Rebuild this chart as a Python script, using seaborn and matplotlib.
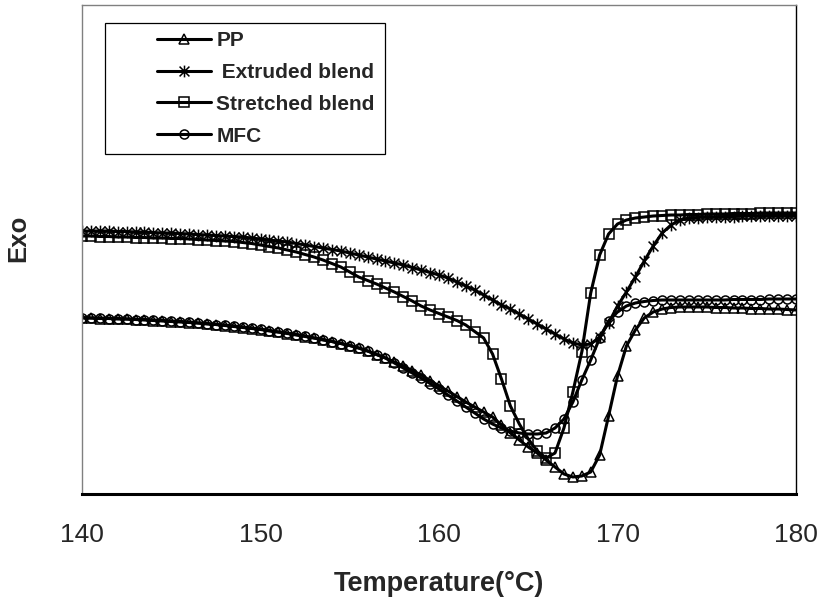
"""
DSC melting curves for PP, the extruded / stretched blends and the MFC,
redrawn in the old Excel look (black lines, hollow markers, boxed legend).
"""

import matplotlib

matplotlib.use("Agg")
import matplotlib.pyplot as plt
import numpy as np
import seaborn as sns
from matplotlib.lines import Line2D
from matplotlib.patches import Rectangle
from matplotlib.path import Path

# --- Data (heat flow in arbitrary units, exo up) ---
temperature = np.linspace(140, 180, 81)  # 0.5 degC sampling

pp = [
    176, 176, 175.5, 175.5, 175, 175, 174.5, 174, 173.5, 173,
    172.5, 172, 171.5, 171, 170, 169.5, 168.5, 167.5, 166.5, 165.5,
    164.5, 163, 162, 160.5, 159, 157.5, 156, 154, 152.5, 150.5,
    148.5, 146, 143, 139.5, 136, 132, 128, 123.5, 119, 113.5,
    108, 103, 97.5, 92, 87, 82, 77, 69, 61, 54,
    47, 41, 34, 27, 20, 17, 18, 22, 39, 78,
    118, 148, 164, 176, 182, 185, 186.5, 187, 187, 187,
    187, 186.5, 186.5, 186, 186, 185.5, 185.5, 185, 185, 184.5, 184,
]

extruded_blend = [
    263, 263, 263, 263, 262.5, 262.5, 262, 262, 261.5, 261,
    261, 260.5, 260, 259.5, 259, 258.5, 258, 257.5, 257, 256,
    255, 254, 253, 252, 250.5, 249, 247.5, 246, 244.5, 243,
    241, 239, 237, 235, 233, 231, 229, 226.5, 224, 221.5,
    219, 216, 212, 208, 204, 199, 194, 189, 185, 180,
    175, 170, 165, 160, 155, 151, 149, 150, 157, 171,
    188, 202, 217, 233, 248, 261, 269, 274, 276, 276.5,
    277, 277, 277.5, 277.5, 278, 278, 278, 278.5, 278.5, 278.5, 278.5,
]

stretched_blend = [
    258, 258, 257.5, 257.5, 257, 257, 256.5, 256.5, 256, 256,
    255.5, 255.5, 255, 254.5, 254, 253.5, 253, 252.5, 251.5, 250.5,
    249, 247.5, 246, 244, 242, 239.5, 237, 234, 230.5, 227,
    222, 217, 213.5, 210, 206, 202, 197.5, 193, 188, 184,
    180.5, 177, 173.5, 169, 162.5, 156, 140, 115, 88, 70,
    55, 43, 36, 41, 66, 102, 142, 201, 239, 260,
    270, 274, 276, 277, 278, 278.5, 279, 279, 279.5, 279.5,
    280, 280, 280, 280.5, 280.5, 280.5, 281, 281, 281, 281, 281,
]

mfc = [
    176.5, 176, 176, 175.5, 175.5, 175, 174.5, 174.5, 174, 173.5,
    173, 172.5, 172, 171, 170.5, 169.5, 169, 168, 167, 166,
    165, 163.5, 162, 161, 159.5, 158, 156, 154.5, 152.5, 150.5,
    148.5, 146, 143, 139.5, 136, 131, 126, 121, 116, 110.5,
    105, 99, 93, 87, 81, 75, 70, 66, 63, 61,
    60, 60, 61, 66, 75, 92, 114, 134, 156, 173,
    182, 188, 191, 192.5, 193.5, 194, 194, 194, 194, 194,
    194, 194, 194, 194.5, 194.5, 194.5, 194.5, 195, 195, 195, 195,
]

labels = ["PP", " Extruded blend", "Stretched blend", "MFC"]
x_ticks = [140, 150, 160, 170, 180]

# Excel style asterisk: an X with a vertical bar through it
ASTERISK = Path(
    [(-1, -1), (1, 1), (-1, 1), (1, -1), (0, -1.2), (0, 1.2)],
    [Path.MOVETO, Path.LINETO, Path.MOVETO, Path.LINETO, Path.MOVETO, Path.LINETO],
)
MARKERS = ["^", ASTERISK, "s", "o"]
MARKER_SIZES = [6.5, 8.5, 6.5, 6.5]

LINE_STYLE = dict(color="black", lw=2.2, mec="black", mfc="none", mew=1.1)

sns.set_style("white")
plt.rcParams["font.family"] = ["Liberation Sans", "DejaVu Sans"]

fig = plt.figure(figsize=(8.24, 5.98), dpi=100)
ax = fig.add_axes([82 / 824, 1 - 494 / 598, 714 / 824, 489 / 598])

for values, marker, size, label in zip(
    [pp, extruded_blend, stretched_blend, mfc], MARKERS, MARKER_SIZES, labels
):
    sns.lineplot(
        x=temperature, y=values, ax=ax, marker=marker, ms=size, label=label,
        legend=False, **LINE_STYLE
    )

ax.set_xlim(140, 180)
ax.set_ylim(0, 489)
ax.set_xticks(x_ticks)
ax.set_xticklabels([str(t) for t in x_ticks])
ax.set_yticks([])
ax.tick_params(axis="x", direction="out", length=5, width=0.8,
               color="black", pad=16, labelsize=19)

for side in ["left", "top"]:
    ax.spines[side].set_color("#808080")
    ax.spines[side].set_linewidth(1.0)
ax.spines["right"].set_color("black")
ax.spines["right"].set_linewidth(1.0)
ax.spines["bottom"].set_color("black")
ax.spines["bottom"].set_linewidth(2.2)

ax.set_xlabel("Temperature(°C)", fontsize=19.5, fontweight="bold")
ax.xaxis.set_label_coords(0.5, -0.157)
ax.set_ylabel("Exo", fontsize=18.5, fontweight="bold")
ax.yaxis.set_label_coords(-0.072, 0.523)

# --- Legend: frameless entries inside a hand-placed box (wide left margin) ---
handles = [
    Line2D([], [], marker=m, ms=s, **LINE_STYLE)
    for m, s in zip(MARKERS, MARKER_SIZES)
]
ax.legend(
    handles, labels, loc="upper left", bbox_to_anchor=(0.105, 0.947),
    frameon=False, prop={"weight": "bold", "size": 15},
    handlelength=2.6, handletextpad=0.25, labelspacing=0.62,
    borderpad=0, borderaxespad=0,
)
ax.add_patch(Rectangle((0.0322, 0.6953), 0.3922, 0.2679, transform=ax.transAxes,
                       fill=False, edgecolor="black", lw=0.9, zorder=5))

fig.savefig("out.png", dpi=100)
plt.close(fig)
